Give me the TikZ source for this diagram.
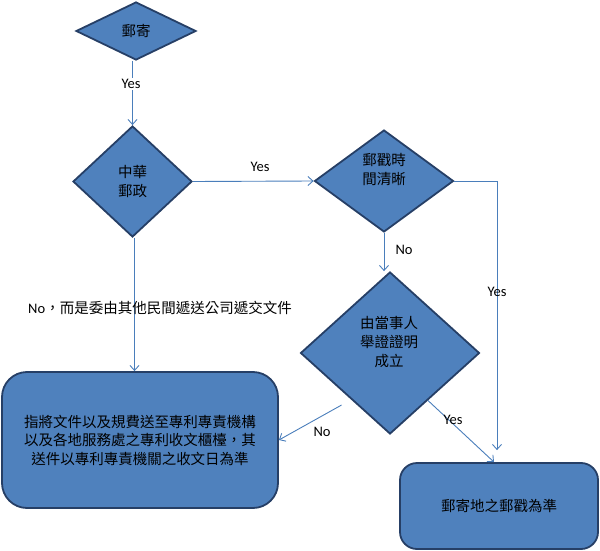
\documentclass[tikz,border=0pt]{standalone}
\usepackage{fontspec}
\usetikzlibrary{shapes.geometric,arrows.meta,calc}
\newfontfamily\cjk{Noto Sans CJK TC}
\newfontfamily\lat{Carlito}
\definecolor{shapefill}{HTML}{4F81BD}
\definecolor{shapeline}{HTML}{263F66}
\definecolor{conn}{HTML}{4A7EBB}
\tikzset{
  dec/.style={diamond, draw=shapeline, fill=shapefill, line width=1.8pt, inner sep=0pt},
  rbox/.style={rectangle, rounded corners=#1, draw=shapeline, fill=shapefill, line width=1.8pt, inner sep=0pt, align=center, font=\cjk\fontsize{14.5}{18.5}\selectfont},
  ctext/.style={font=\cjk\fontsize{14.5}{19}\selectfont, align=center, text=black},
  conn/.style={draw=conn, line width=0.9pt, -{Straight Barb[length=5pt,width=9pt,line width=0.9pt]}},
  lbl/.style={font=\lat\fontsize{14.5}{16}\selectfont, text=black, inner sep=1pt}
}
\begin{document}
\begin{tikzpicture}[x=1pt,y=-1pt]
\useasboundingbox (0,0) rectangle (600,551);
% decisions
\node[dec, minimum width=120pt, minimum height=58pt] (d1) at (136,31) {};
\node[ctext] (t1) at (d1.center) {郵寄};
\node[dec, minimum width=119pt, minimum height=111pt] (d2) at (132.5,181.5) {};
\node[ctext] (t2) at (d2.center) {中華\\郵政};
\node[dec, minimum width=139pt, minimum height=102pt] (d3) at (384,181) {};
\node[ctext] (t3) at (384,170) {郵戳時\\間清晰};
\node[dec, minimum width=179pt, minimum height=162pt] (d4) at (390,353) {};
\node[ctext] (t4) at (389,342) {由當事人\\舉證證明\\成立};
% boxes
\node[rbox=25pt, minimum width=276pt, minimum height=136pt] (b1) at (140,440)
  {指將文件以及規費送至專利專責機構\\以及各地服務處之專利收文櫃檯，其\\送件以專利專責機關之收文日為準};
\node[rbox=17pt, minimum width=198pt, minimum height=86pt] (b2) at (499,506) {郵寄地之郵戳為準};
% connectors
\draw[conn] (d2.north |- d1.south) -- (d2.north);
\node[lbl, fill=white] (y1) at (131,84) {Yes};
\draw[conn] (d2.east) -- (d3.west);
\node[lbl] (y2) at (260,167) {Yes};
\draw[conn] (d3.south) -- (d3.south |- d4.north);
\node[lbl] (n1) at (404,250) {No};
\draw[conn, shorten >=12pt] (d3.east) -| ([xshift=-2pt]b2.north);
\node[lbl] (y3) at (497,292) {Yes};
\coordinate (p1) at ($(d4.east)!0.58!(d4.south)$);
\draw[conn] (p1) -- ([xshift=-5pt]b2.north);
\node[lbl] (y4) at (453,420) {Yes};
\coordinate (p2) at ($(d4.west)!0.57!(d4.south)$);
\draw[conn, shorten <=11pt] (p2) -- (b1.east);
\node[lbl] (n2) at (322,432) {No};
\draw[conn] ([xshift=2pt]d2.south) -- ([xshift=2pt]d2.south |- b1.north);
\node[font=\cjk\fontsize{14.5}{17}\selectfont, text=black] (n3) at (160,308) {{\lat\fontsize{14.5}{16}\selectfont No}，而是委由其他民間遞送公司遞交文件};
\end{tikzpicture}
\end{document}
